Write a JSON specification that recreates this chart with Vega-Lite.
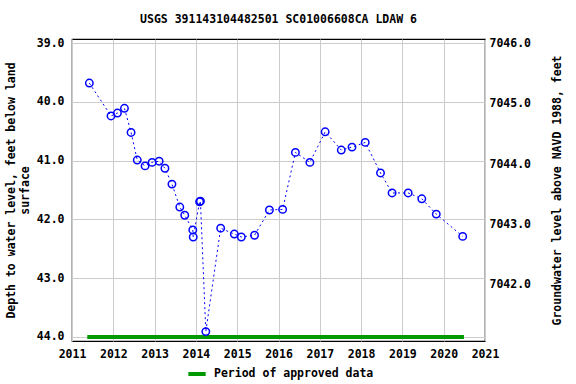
{
  "$schema": "https://vega.github.io/schema/vega-lite/v6.json",
  "autosize": {"type": "none"},
  "width": 413,
  "height": 302,
  "padding": {"left": 72, "top": 39, "right": 91, "bottom": 43},
  "background": "white",
  "title": {"text": "USGS 391143104482501 SC01006608CA LDAW 6", "font": "DejaVu Sans Mono", "fontSize": 11.5, "fontWeight": "bold", "color": "black", "anchor": "middle", "offset": 11},
  "config": {
    "view": {"stroke": "black", "strokeWidth": 1.2},
    "axis": {"labelFont": "DejaVu Sans Mono", "labelFontSize": 11.5, "labelFontWeight": "bold", "labelColor": "black", "titleFont": "DejaVu Sans Mono", "titleFontSize": 11.5, "titleFontWeight": "bold", "titleColor": "black", "domain": false, "gridColor": "#cccccc", "gridWidth": 1, "ticks": false},
    "legend": {"labelFont": "DejaVu Sans Mono", "labelFontSize": 11.5, "labelFontWeight": "bold", "labelColor": "black"}
  },
  "resolve": {"scale": {"y": "independent"}},
  "layer": [
    {
      "layer": [
        {
          "data": {"values": [
            {"year": 2011.37, "depth": 44.0, "label": "Period of approved data"},
            {"year": 2020.49, "depth": 44.0, "label": "Period of approved data"}
          ]},
          "mark": {"type": "line", "strokeWidth": 4},
          "encoding": {
            "x": {"field": "year", "type": "quantitative"},
            "y": {"field": "depth", "type": "quantitative"},
            "color": {"field": "label", "type": "nominal", "scale": {"range": ["#009900"]},
              "legend": {"title": null, "orient": "none", "legendX": 114, "legendY": 324, "symbolType": "stroke", "symbolStrokeWidth": 4, "symbolSize": 300, "padding": 0, "labelOffset": 6}}
          }
        },
        {
          "data": {"name": "wl", "values": [
            {"year": 2011.42, "depth": 39.68},
            {"year": 2011.945, "depth": 40.24},
            {"year": 2012.10, "depth": 40.19},
            {"year": 2012.27, "depth": 40.11},
            {"year": 2012.43, "depth": 40.52},
            {"year": 2012.58, "depth": 40.99},
            {"year": 2012.77, "depth": 41.09},
            {"year": 2012.94, "depth": 41.03},
            {"year": 2013.11, "depth": 41.01},
            {"year": 2013.25, "depth": 41.13},
            {"year": 2013.42, "depth": 41.40},
            {"year": 2013.61, "depth": 41.79},
            {"year": 2013.73, "depth": 41.93},
            {"year": 2013.925, "depth": 42.18},
            {"year": 2013.935, "depth": 42.30},
            {"year": 2014.09, "depth": 41.70},
            {"year": 2014.11, "depth": 41.69},
            {"year": 2014.24, "depth": 43.91},
            {"year": 2014.60, "depth": 42.15},
            {"year": 2014.93, "depth": 42.25},
            {"year": 2015.10, "depth": 42.30},
            {"year": 2015.42, "depth": 42.27},
            {"year": 2015.78, "depth": 41.84},
            {"year": 2016.10, "depth": 41.83},
            {"year": 2016.41, "depth": 40.86},
            {"year": 2016.76, "depth": 41.03},
            {"year": 2017.13, "depth": 40.51},
            {"year": 2017.52, "depth": 40.82},
            {"year": 2017.78, "depth": 40.77},
            {"year": 2018.10, "depth": 40.69},
            {"year": 2018.47, "depth": 41.21},
            {"year": 2018.75, "depth": 41.55},
            {"year": 2019.14, "depth": 41.55},
            {"year": 2019.47, "depth": 41.65},
            {"year": 2019.82, "depth": 41.91},
            {"year": 2020.46, "depth": 42.29}
          ]},
          "mark": {"type": "line", "color": "#0000ff", "strokeWidth": 1, "strokeDash": [2, 3]},
          "encoding": {
            "x": {"field": "year", "type": "quantitative", "scale": {"domain": [2011, 2021], "nice": false, "zero": false},
              "axis": {"title": null, "values": [2011, 2012, 2013, 2014, 2015, 2016, 2017, 2018, 2019, 2020, 2021], "format": "d", "labelPadding": 7, "labelFlush": false}},
            "y": {"field": "depth", "type": "quantitative", "scale": {"domain": [38.93, 44.07], "reverse": true, "nice": false, "zero": false},
              "axis": {"title": ["Depth to water level, feet below land", "surface"], "values": [39, 40, 41, 42, 43, 44], "format": ".1f", "labelPadding": 8, "titlePadding": 6}}
          }
        },
        {
          "data": {"name": "wl"},
          "mark": {"type": "point", "shape": "circle", "filled": false, "color": "#0000ff", "size": 55, "strokeWidth": 1.5, "opacity": 1},
          "encoding": {
            "x": {"field": "year", "type": "quantitative"},
            "y": {"field": "depth", "type": "quantitative"}
          }
        }
      ]
    },
    {
      "data": {"values": [{"elev": 7041.07}, {"elev": 7046.07}]},
      "mark": {"type": "point", "opacity": 0},
      "encoding": {
        "y": {"field": "elev", "type": "quantitative", "scale": {"domain": [7041.07, 7046.07], "nice": false, "zero": false},
          "axis": {"orient": "right", "title": "Groundwater level above NAVD 1988, feet", "values": [7042, 7043, 7044, 7045, 7046], "format": ".1f", "labelPadding": 4, "grid": false, "titleAngle": 270, "titlePadding": 32}}
      }
    }
  ]
}
